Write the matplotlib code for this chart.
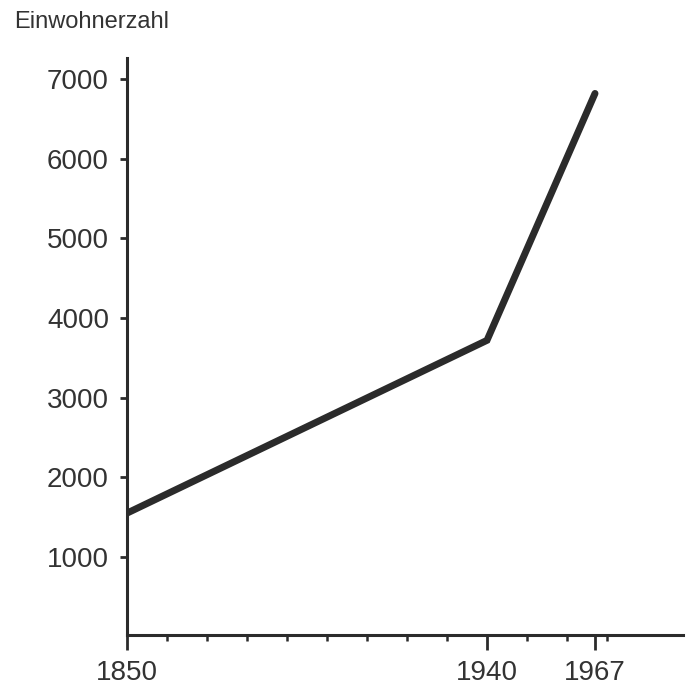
import matplotlib
matplotlib.use('Agg')
import matplotlib.pyplot as plt

# Einwohnerzahl je Jahr
years = [1850, 1940, 1967]
population = [1550, 3720, 6820]

y_ticks = [1000, 2000, 3000, 4000, 5000, 6000, 7000]
x_major = [1850, 1940, 1967]
x_minor = [1860, 1870, 1880, 1890, 1900, 1910, 1920, 1930, 1950, 1960, 1970]
y_title = 'Einwohnerzahl'

ink = '#2b2b2b'
txt = '#333333'

fig = plt.figure(figsize=(6.92, 6.93), dpi=100)
ax = fig.add_axes([0.1835, 0.0837, 0.8035, 0.8326])

ax.plot(years, population, color=ink, lw=5, solid_capstyle='round', solid_joinstyle='miter')

ax.set_xlim(1850, 1989)
ax.set_ylim(20, 7265)

for s in ['top', 'right']:
    ax.spines[s].set_visible(False)
for s in ['left', 'bottom']:
    ax.spines[s].set_linewidth(2.2)
    ax.spines[s].set_color(ink)

ax.set_yticks(y_ticks)
ax.set_yticklabels([str(v) for v in y_ticks], fontfamily='Liberation Sans', fontsize=20, color=txt)
ax.tick_params(axis='y', direction='out', length=5, width=2, color=ink, pad=8)

ax.set_xticks(x_major)
ax.set_xticklabels([str(v) for v in x_major], fontfamily='Liberation Sans', fontsize=20, color=txt)
ax.set_xticks(x_minor, minor=True)
ax.tick_params(axis='x', which='major', direction='out', length=11, width=2, color=ink, pad=7)
ax.tick_params(axis='x', which='minor', direction='out', length=4, width=1.8, color=ink)

fig.text(0.02, 0.968, y_title, fontfamily='Liberation Sans', fontsize=17, color=txt, va='center', ha='left')

fig.savefig('out.png', dpi=100, facecolor='white')
